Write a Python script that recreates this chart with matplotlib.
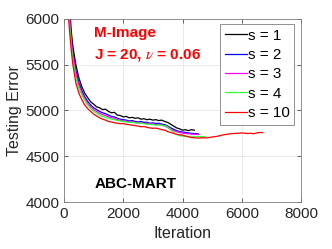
import matplotlib
matplotlib.use("Agg")
import matplotlib.pyplot as plt

plt.rcParams['font.family'] = ['Liberation Sans', 'DejaVu Sans']
plt.rcParams['mathtext.fontset'] = 'stix'

it_s1 = [50,100,150,200,250,300,400,500,600,700,800,900,1000,1100,1200,1300,1400,1500,1600,1700,1800,1900,2000,
         2100,2200,2300,2400,2500,2600,2700,2800,2900,3000,3100,3200,3300,3400,3500,3600,3700,3800,3900,4000,4100,4200,4300,4400]
err_s1 = [7200,6700,6300,6080,5850,5700,5500,5360,5260,5190,5140,5095,5070,5040,5030,5010,5015,4990,4975,4980,4950,4945,4930,
          4935,4920,4925,4915,4920,4905,4910,4900,4905,4895,4900,4890,4895,4880,4870,4850,4830,4810,4800,4785,4790,4780,4790,4785]

it_s2 = [50,100,150,200,250,300,400,500,600,700,800,900,1000,1100,1200,1300,1400,1500,1600,1700,1800,1900,2000,
         2100,2200,2300,2400,2500,2600,2700,2800,2900,3000,3100,3200,3300,3400,3500,3600,3700,3800,3900,4000,4100,4200,4300,4400,4530]
err_s2 = [7100,6600,6200,5980,5780,5640,5440,5310,5220,5150,5100,5060,5030,5010,4990,4975,4965,4950,4935,4930,4915,4905,4900,
          4895,4885,4890,4880,4875,4880,4870,4872,4860,4865,4858,4860,4850,4845,4830,4810,4795,4780,4770,4765,4760,4755,4750,4748,4745]

it_s3 = [50,100,150,200,250,300,400,500,600,700,800,900,1000,1100,1200,1300,1400,1500,1600,1700,1800,1900,2000,
         2100,2200,2300,2400,2500,2600,2700,2800,2900,3000,3100,3200,3300,3400,3500,3600,3700,3800,3900,4000,4100,4200,4300,4400,4550]
err_s3 = [7050,6550,6150,5940,5740,5600,5400,5280,5195,5130,5080,5040,5010,4990,4970,4955,4945,4932,4920,4915,4900,4892,4888,
          4882,4875,4878,4868,4862,4866,4858,4860,4850,4852,4845,4848,4838,4830,4815,4795,4780,4768,4760,4752,4748,4745,4742,4740,4738]

it_s4 = [50,100,150,200,250,300,400,500,600,700,800,900,1000,1100,1200,1300,1400,1500,1600,1700,1800,1900,2000,
         2100,2200,2300,2400,2500,2600,2700,2800,2900,3000,3100,3200,3300,3400,3500,3600,3700,3800,3900,4000,4100,4200,4300,4400,4500,4600,4700,4780]
err_s4 = [7000,6500,6100,5900,5700,5560,5360,5240,5170,5110,5060,5020,4990,4970,4950,4935,4925,4915,4905,4900,4890,4885,4880,
          4875,4870,4872,4865,4860,4862,4855,4850,4848,4845,4840,4842,4838,4835,4820,4790,4760,4740,4725,4720,4722,4715,4718,4712,4715,4712,4715,4712]

it_s10 = [50,100,150,200,250,300,400,500,600,700,800,900,1000,1100,1200,1300,1400,1500,1600,1700,1800,1900,2000,
          2100,2200,2300,2400,2500,2600,2700,2800,2900,3000,3100,3200,3300,3400,3500,3600,3700,3800,3900,4000,
          4100,4200,4300,4400,4500,4600,4700,4800,4900,5000,5100,5200,5300,5400,5500,5600,5700,5800,5900,6000,
          6100,6200,6300,6400,6500,6600,6700]
err_s10 = [6900,6400,6020,5820,5640,5500,5300,5190,5120,5060,5020,4990,4960,4940,4920,4905,4895,4880,4875,4865,4862,4855,4858,
           4848,4845,4840,4835,4830,4822,4825,4815,4810,4805,4808,4800,4790,4785,4770,4760,4750,4740,4735,4730,
           4720,4712,4705,4702,4698,4700,4703,4700,4705,4710,4715,4720,4728,4735,4740,4745,4748,4750,4752,4755,
           4752,4748,4752,4745,4755,4760,4758]

labels = ['s = 1', 's = 2', 's = 3', 's = 4', 's = 10']
colors = ['black', 'blue', 'magenta', '#33ff33', 'red']

fig = plt.figure(figsize=(3.32, 2.49), dpi=100)
ax = fig.add_axes([64/332, 1-202/249, 237/332, 183/249])

series = [(it_s1, err_s1), (it_s2, err_s2), (it_s3, err_s3), (it_s4, err_s4), (it_s10, err_s10)]
for (x, y), lab, c in zip(series, labels, colors):
    ax.plot(x, y, color=c, lw=0.9, label=lab)

ax.set_xlim(0, 8000)
ax.set_ylim(4000, 6000)
ax.set_xticks([0, 2000, 4000, 6000, 8000])
ax.set_yticks([4000, 4500, 5000, 5500, 6000])
ax.grid(True, color='#e6e6e6', lw=0.6)
ax.set_axisbelow(True)
ax.tick_params(direction='in', top=True, right=True, labelsize=11, colors='#262626', length=3, width=0.5)
for sp in ax.spines.values():
    sp.set_color('#808080')
    sp.set_linewidth(0.6)
ax.set_xlabel('Iteration', fontsize=11.5, color='#262626', labelpad=3.5)
ax.set_ylabel('Testing Error', fontsize=11.5, color='#262626', labelpad=2)

ax.text(30/237, 1-14/183, 'M-Image', transform=ax.transAxes, color='red', fontsize=11,
        fontweight='bold', va='center', ha='left')
ax.text(30/237, 1-36/183, r'J = 20, $\nu$ = 0.06', transform=ax.transAxes, color='red', fontsize=11,
        fontweight='bold', va='center', ha='left')
ax.text(31/237, 18/183, 'ABC-MART', transform=ax.transAxes, color='black', fontsize=11,
        fontweight='bold', va='center', ha='left')

leg = ax.legend(loc='upper right', bbox_to_anchor=(294/332, 1-24/249), bbox_transform=fig.transFigure,
                fontsize=11, handlelength=1.45, handletextpad=0.05, labelspacing=0.35,
                borderpad=0.3, borderaxespad=0, fancybox=False, framealpha=1)
leg.get_frame().set_edgecolor('#808080')
leg.get_frame().set_linewidth(0.6)

fig.savefig('out.png', dpi=100)
